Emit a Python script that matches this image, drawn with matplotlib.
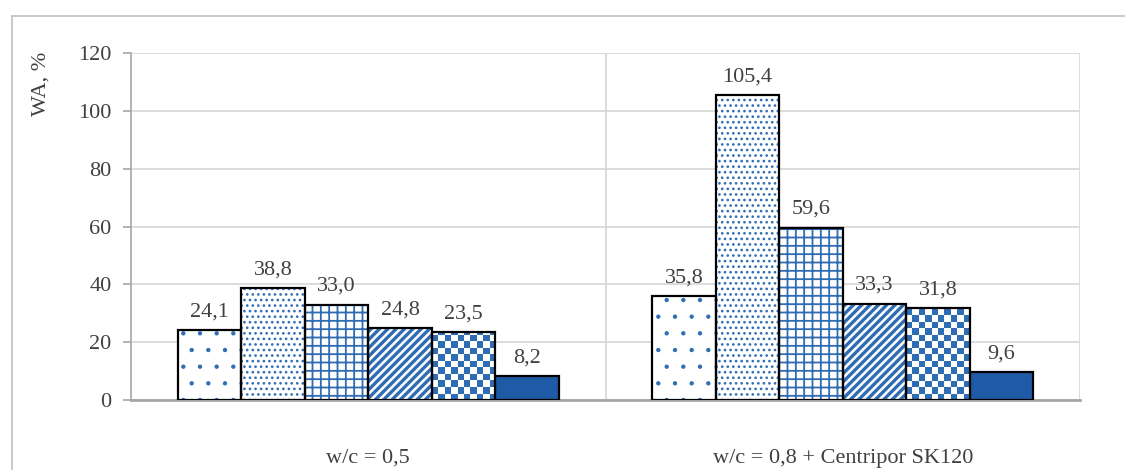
import numpy as np
import matplotlib
matplotlib.use('Agg')
import matplotlib.pyplot as plt
from matplotlib.colors import ListedColormap

plt.rcParams['font.family'] = ['Liberation Serif', 'DejaVu Serif']

# data
groups = ['w/c = 0,5', 'w/c = 0,8 + Centripor SK120']
series_vals = [
    [24.1, 35.8],
    [38.8, 105.4],
    [33.0, 59.6],
    [24.8, 33.3],
    [23.5, 31.8],
    [8.2, 9.6],
]
hatches = ['.', '...', '++', '////', 'checker', None]
hatch_lw = [0.7, 1.1, 1.3, 2.4, 1.0, 1.0]
yticks = [0, 20, 40, 60, 80, 100, 120]

blue = '#1f5aa6'
hatch_blue = '#2e6db4'
txt = '#404040'

fig = plt.figure(figsize=(11.25, 4.70), dpi=100)
ax = fig.add_axes([131/1125, 1-400/470, (1080-131)/1125, (400-53)/470])

# outer frame like the source figure
fig.add_artist(plt.Line2D([12/1125, 12/1125], [0, 1-16/470], color='#bfbfbf', lw=1.2))
fig.add_artist(plt.Line2D([12/1125, 1], [1-16/470, 1-16/470], color='#bfbfbf', lw=1.2))

x = np.arange(len(groups))
n = len(series_vals)
w = 0.803 / n
ax.set_xlim(-0.5, len(groups) - 0.5)
ax.set_ylim(0, 120)

ppx = (1080 - 131) / 2  # pixels per x unit
ppy = (400 - 53) / 120  # pixels per y unit

for i, vals in enumerate(series_vals):
    xs = x - 0.803/2 + w*(i + 0.5)
    h = hatches[i]
    if h is None:
        ax.bar(xs, vals, w, color=blue, edgecolor='black', lw=1.6, zorder=3)
    elif h == 'checker':
        bars = ax.bar(xs, vals, w, color='white', edgecolor='none', zorder=3)
        cmap = ListedColormap(['white', hatch_blue])
        cell = 6.5
        for b, v in zip(bars, vals):
            nx = int(round(w*ppx / cell))
            ny = int(np.ceil(v*ppy / cell))
            arr = (np.add.outer(np.arange(ny), np.arange(nx)) % 2)
            x0 = b.get_x()
            im = ax.imshow(arr, cmap=cmap, interpolation='nearest', aspect='auto',
                           extent=(x0, x0 + w, 0, ny*cell/ppy), origin='lower', zorder=3.5)
            im.set_clip_path(b)
        ax.bar(xs, vals, w, color='none', edgecolor='black', lw=1.6, zorder=4)
    else:
        with plt.rc_context({'hatch.linewidth': hatch_lw[i]}):
            bars = ax.bar(xs, vals, w, color='white', edgecolor=hatch_blue, hatch=h, lw=0, zorder=3)
        for b in bars:
            if hasattr(b, 'set_hatch_linewidth'):
                b.set_hatch_linewidth(hatch_lw[i])
        ax.bar(xs, vals, w, color='none', edgecolor='black', lw=1.6, zorder=4)
    for xx, v in zip(xs, vals):
        ax.text(xx, v + 3.0, f'{v:.1f}'.replace('.', ','), ha='center', va='bottom',
                fontsize=16, color=txt, zorder=5)

ax.set_yticks(yticks)
ax.tick_params(axis='y', labelsize=16, labelcolor=txt, color='#a6a6a6', length=6, width=1.2, pad=8)
ax.yaxis.grid(True, color='#d9d9d9', lw=1.3, zorder=0)

ax.set_xticks(x)
ax.set_xticklabels(groups, fontsize=16, color=txt)
ax.tick_params(axis='x', length=0, pad=35)
ax.set_xticks([0.5, 1.5], minor=True)
ax.tick_params(axis='x', which='minor', length=0)
ax.xaxis.grid(True, which='minor', color='#d9d9d9', lw=1.3, zorder=0)

for s in ['top', 'right']:
    ax.spines[s].set_visible(False)
ax.spines['left'].set_color('#a6a6a6')
ax.spines['left'].set_linewidth(1.2)
ax.spines['bottom'].set_color('#a6a6a6')
ax.spines['bottom'].set_linewidth(2)

fig.text(41/1125, 1-84/470, 'WA, %', rotation=90, ha='center', va='center', fontsize=16, color=txt)

fig.savefig('out.png', dpi=100)
